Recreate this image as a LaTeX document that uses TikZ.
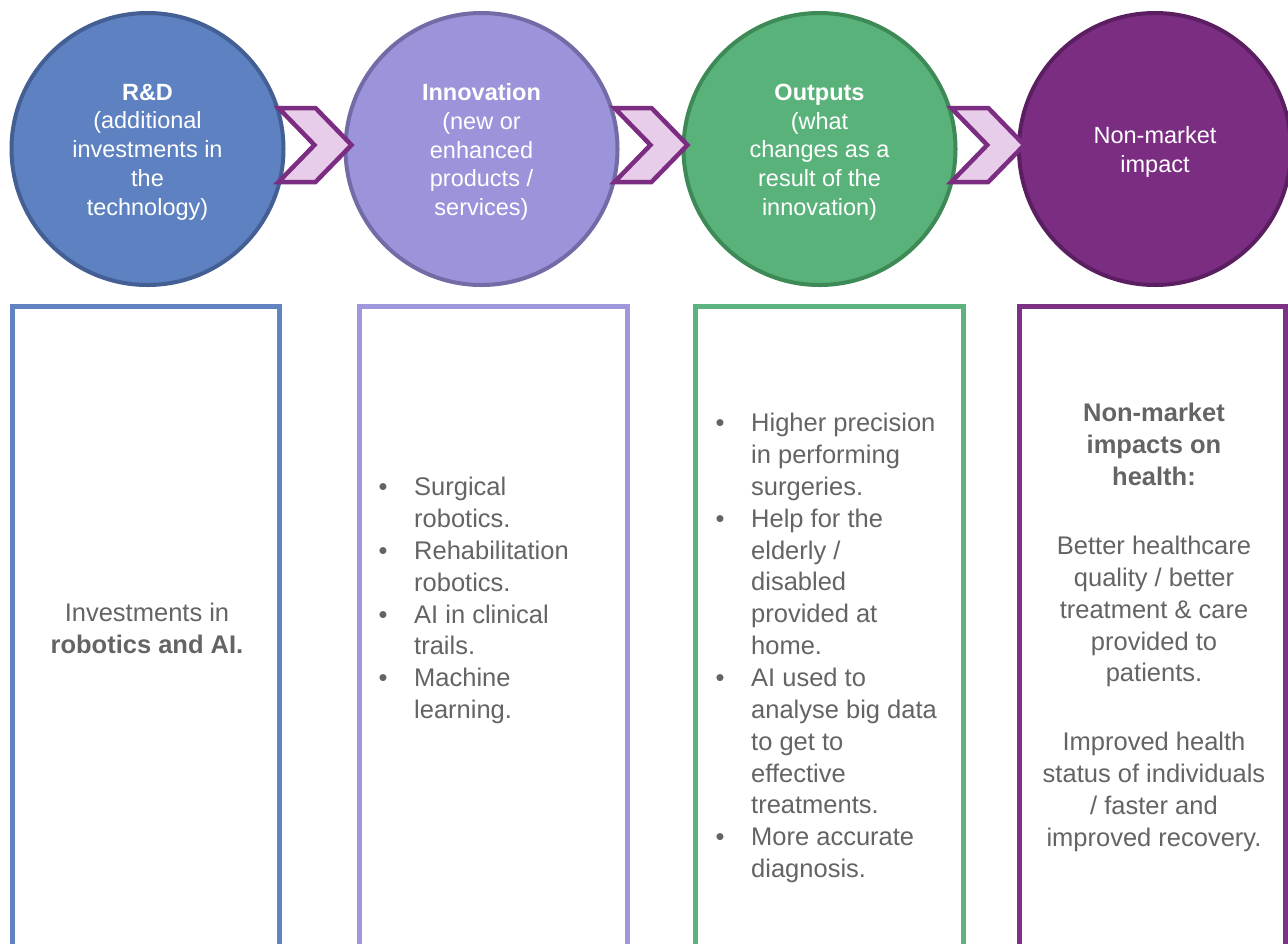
\documentclass[tikz,border=0pt]{standalone}
\usepackage{fontspec}
\setmainfont{Liberation Sans}
\usetikzlibrary{calc}
\definecolor{c1fill}{HTML}{5E81C1}
\definecolor{c1draw}{HTML}{435F94}
\definecolor{c2fill}{HTML}{9B94DA}
\definecolor{c2draw}{HTML}{736BA6}
\definecolor{c3fill}{HTML}{5AB27B}
\definecolor{c3draw}{HTML}{3E8A57}
\definecolor{c4fill}{HTML}{7B2D82}
\definecolor{c4draw}{HTML}{5B1F61}
\definecolor{p1col}{HTML}{6283C1}
\definecolor{p2col}{HTML}{9F98DD}
\definecolor{p3col}{HTML}{5DB37E}
\definecolor{p4col}{HTML}{7D3185}
\definecolor{chevfill}{HTML}{E8CDEB}
\definecolor{chevdraw}{HTML}{7B2D82}
\definecolor{textgrey}{HTML}{646464}
\newcommand{\bul}{\makebox[35.5pt][l]{•}}
\newcommand{\ind}{\hspace*{35.5pt}}
\begin{document}
\begin{tikzpicture}[x=1pt,y=-1pt,
  circ/.style={circle, minimum size=272pt, inner sep=0pt, outer sep=0pt, line width=4pt},
  ctext/.style={text=white, align=center, inner sep=0pt, font=\fontsize{23.5}{28.75}\selectfont},
  panel/.style={rectangle, anchor=north west, line width=5pt, inner sep=0pt, outer sep=0pt,
    minimum height=720pt},
  btext/.style={text=textgrey, font=\fontsize{25.5}{31.86}\selectfont, inner sep=0pt},
  chev/.style={draw=chevdraw, fill=chevfill, line width=4.5pt, line join=miter}]
\clip (0,0) rectangle (1288,943);
\fill[white] (0,0) rectangle (1288,943);

% circles
\node[circ, fill=c1fill, draw=c1draw] (c1) at (147.5,149) {};
\node[circ, fill=c2fill, draw=c2draw] (c2) at (481.5,149) {};
\node[circ, fill=c3fill, draw=c3draw] (c3) at (819.5,149) {};
\node[circ, fill=c4fill, draw=c4draw] (c4) at (1155,149) {};
\node[ctext] (l1) at ($(c1)+(0,3)$)
  {\textbf{R\&D}\\(additional\\investments in\\the\\technology)};
\node[ctext] (l2) at ($(c2)+(0,3)$)
  {\textbf{Innovation}\\(new or\\enhanced\\products /\\services)};
\node[ctext] (l3) at ($(c3)+(0,3)$)
  {\textbf{Outputs}\\(what\\changes as a\\result of the\\innovation)};
\node[ctext] (l4) at ($(c4)+(0,3)$)
  {Non-market\\impact};

% chevrons
\draw[chev] ($(c1.east)!0.5!(c2.west)+(-36,-41)$) -- ++(37,0) -- ++(36,37) -- ++(-36,37)
  -- ++(-37,0) -- ++(36,-37) -- cycle;
\draw[chev] ($(c2.east)!0.5!(c3.west)+(-36,-41)$) -- ++(37,0) -- ++(36,37) -- ++(-36,37)
  -- ++(-37,0) -- ++(36,-37) -- cycle;
\draw[chev] ($(c3.east)!0.5!(c4.west)+(-36,-41)$) -- ++(37,0) -- ++(36,37) -- ++(-36,37)
  -- ++(-37,0) -- ++(36,-37) -- cycle;

% panels
\node[panel, draw=p1col, minimum width=267pt] (p1) at (12.5,306) {};
\node[panel, draw=p2col, minimum width=268pt] (p2) at (359.5,306) {};
\node[panel, draw=p3col, minimum width=267.5pt] (p3) at (695.5,306) {};
\node[panel, draw=p4col, minimum width=266pt] (p4) at (1019.5,306) {};

% panel texts
\node[btext, align=center] (t1) at (147,628.5) {Investments in\\\textbf{robotics and AI.}};
\node[btext, align=left, anchor=west] (t2) at (378.5,600.5)
  {\bul Surgical\\\ind robotics.\\\bul Rehabilitation\\\ind robotics.\\\bul AI in clinical\\\ind trails.\\\bul Machine\\\ind learning.};
\node[btext, align=left, anchor=west] (t3) at (715.5,648)
  {\bul Higher precision\\\ind in performing\\\ind surgeries.\\\bul Help for the\\\ind elderly /\\\ind disabled\\\ind provided at\\\ind home.\\\bul AI used to\\\ind analyse big data\\\ind to get to\\\ind effective\\\ind treatments.\\\bul More accurate\\\ind diagnosis.};
\node[btext, align=center] (t4) at (1154,627.5)
  {\textbf{Non-market}\\\textbf{impacts on}\\\textbf{health:}\\[37pt]Better healthcare\\quality / better\\treatment \& care\\provided to\\patients.\\[37pt]Improved health\\status of individuals\\/ faster and\\improved recovery.};
\end{tikzpicture}
\end{document}
